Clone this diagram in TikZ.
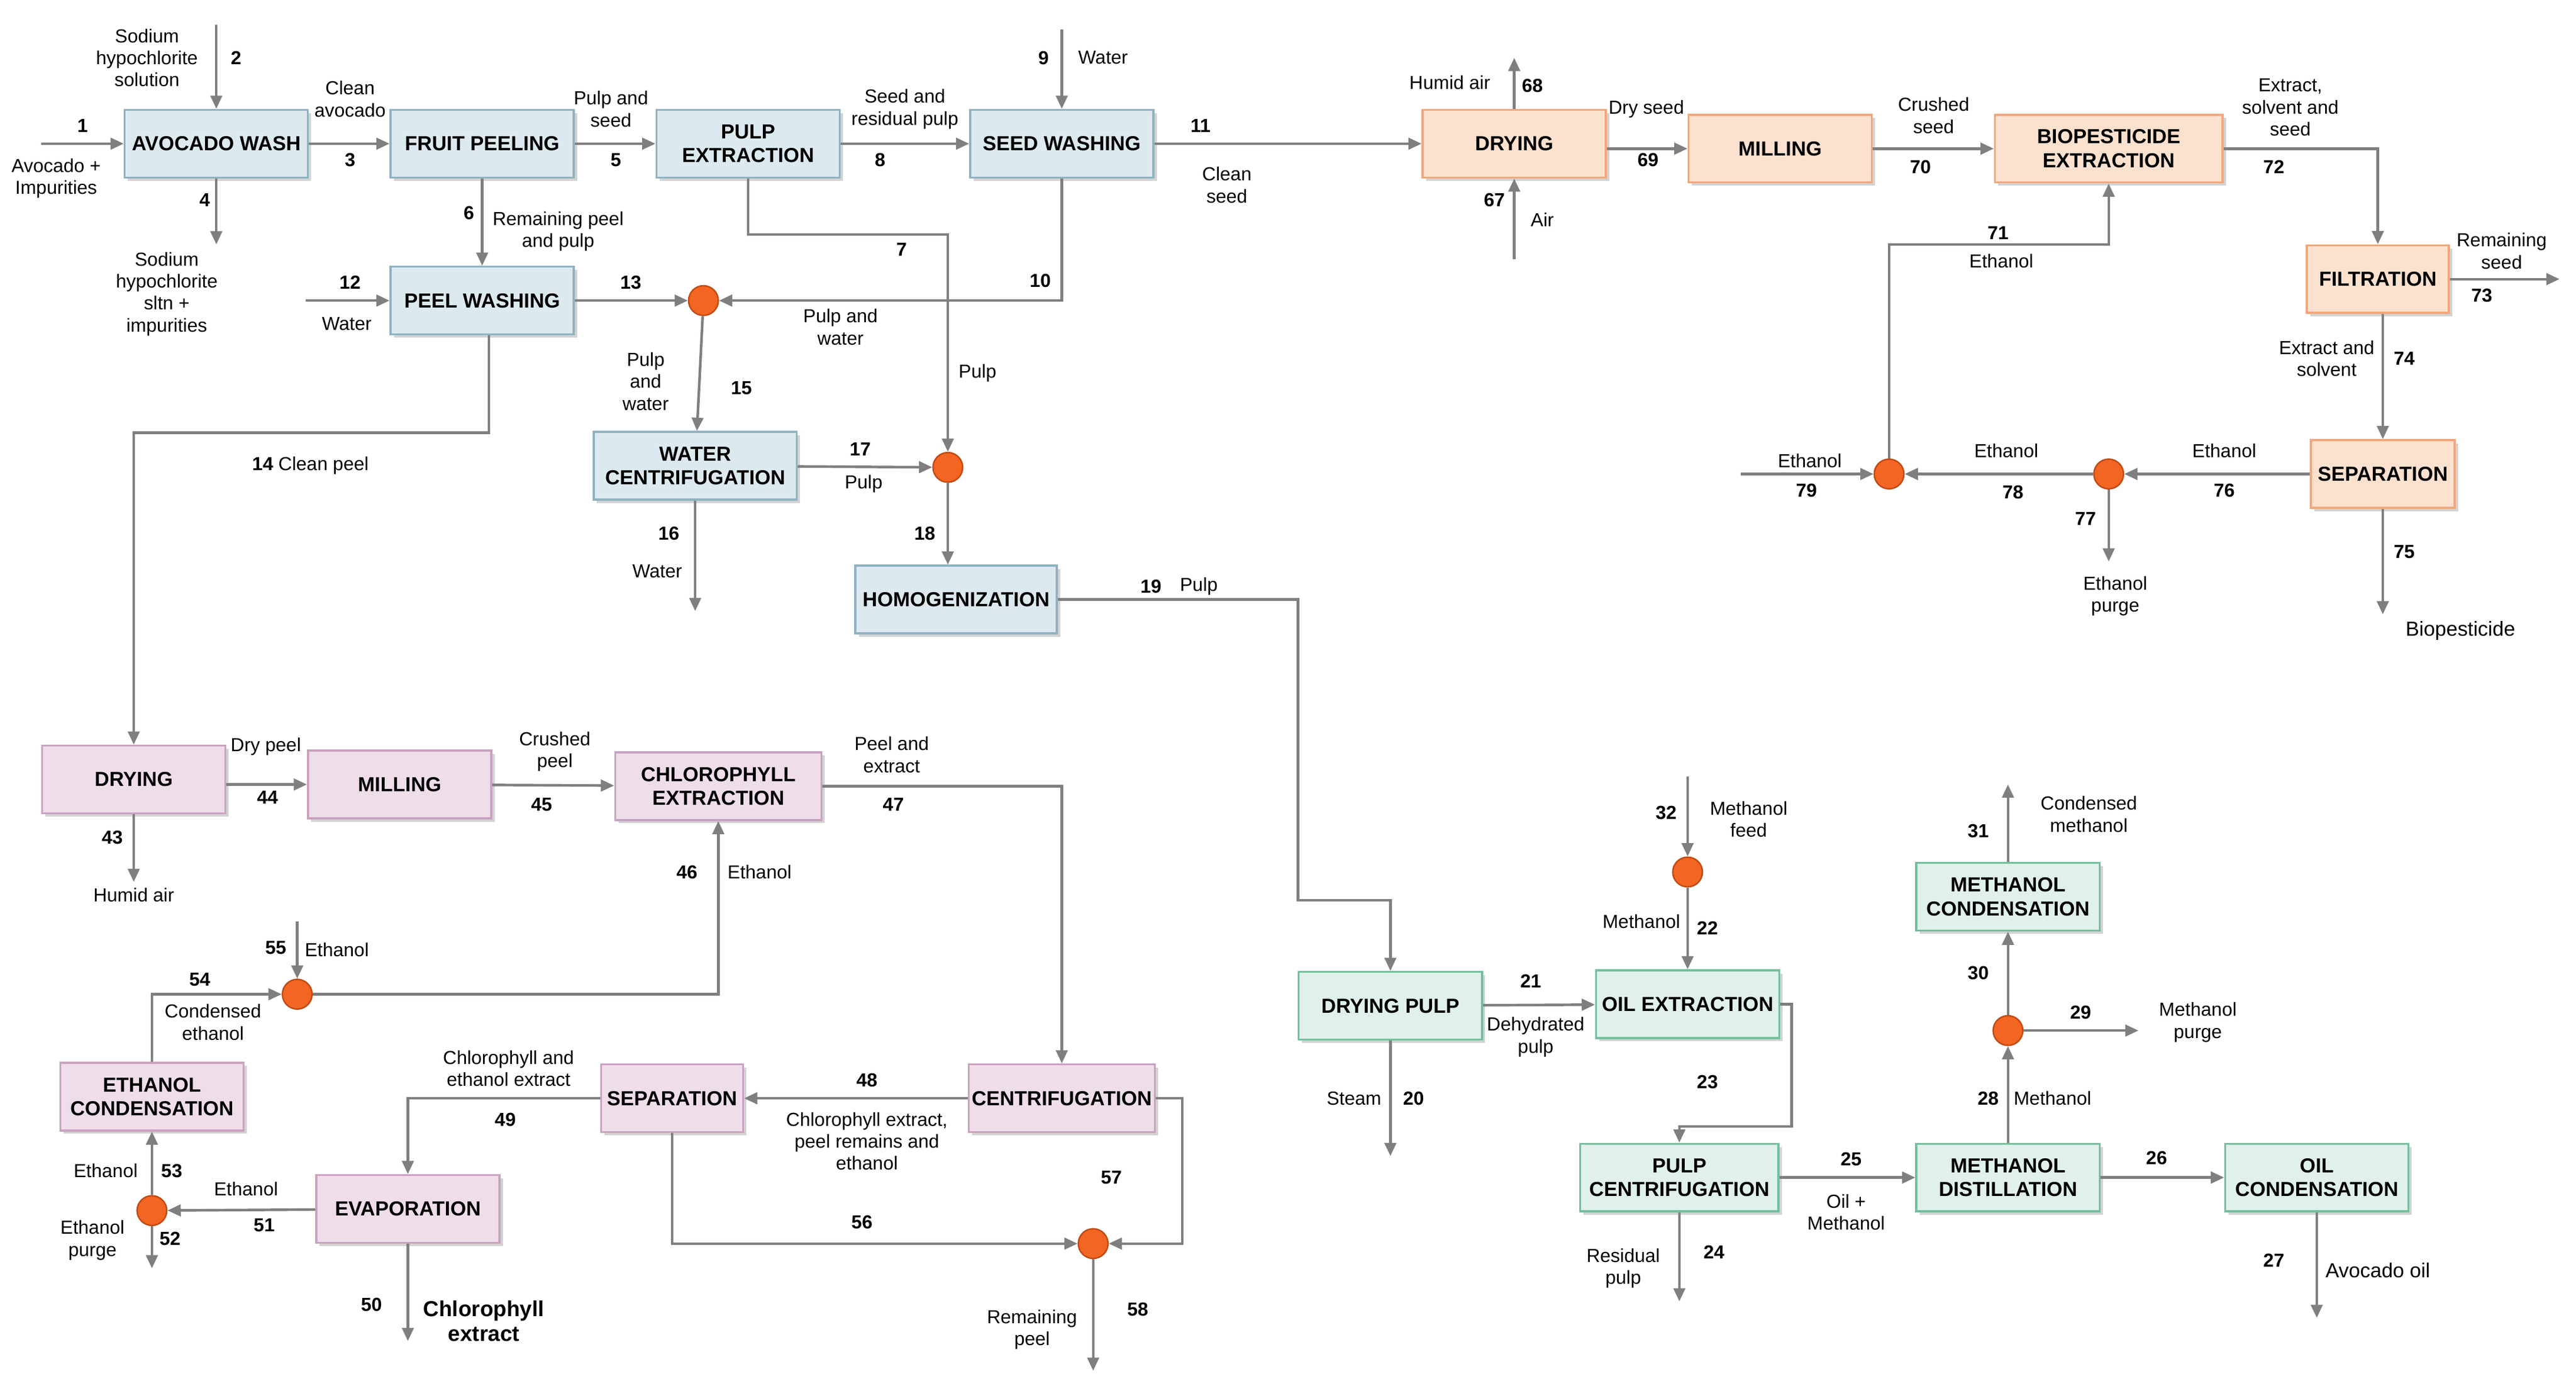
\documentclass[tikz,border=0pt]{standalone}
\usepackage{fontspec}
\setmainfont{Liberation Sans}
\usetikzlibrary{arrows.meta,shadows}
\definecolor{ln}{HTML}{7F7F7F}
\definecolor{bF}{HTML}{DCE9EF}\definecolor{bD}{HTML}{8FB3C2}
\definecolor{oF}{HTML}{FDE1CF}\definecolor{oD}{HTML}{F2A77C}
\definecolor{pF}{HTML}{EFDDEA}\definecolor{pD}{HTML}{C9A3C0}
\definecolor{gF}{HTML}{DFF1EA}\definecolor{gD}{HTML}{72BF9C}
\definecolor{mF}{HTML}{F26522}\definecolor{mD}{HTML}{C04A14}
\tikzset{
 box/.style={draw,line width=0.7pt,minimum width=2.22cm,minimum height=0.82cm,align=center,font=\fontsize{7}{8.2}\selectfont\bfseries,inner sep=1pt,drop shadow={shadow xshift=0.04cm,shadow yshift=-0.04cm,opacity=0.35}},
 bl/.style={box,fill=bF,draw=bD},
 og/.style={box,fill=oF,draw=oD},
 pk/.style={box,fill=pF,draw=pD},
 gn/.style={box,fill=gF,draw=gD},
 mx/.style={circle,fill=mF,draw=mD,line width=0.5pt,minimum size=0.36cm,inner sep=0pt},
 ar/.style={draw=ln,line width=0.9pt,-{Triangle[length=0.16cm,width=0.14cm]}},
 tx/.style={font=\fontsize{6.5}{7.6}\selectfont,align=center,inner sep=0pt},
 nm/.style={font=\fontsize{6.5}{7.6}\selectfont\bfseries,inner sep=0pt},
}
\begin{document}
\begin{tikzpicture}[x=0.02cm,y=-0.02cm]
\useasboundingbox (0,0) rectangle (1560,842);
% boxes
\node[bl] (aw) at (131,87) {AVOCADO WASH};
\node[bl] (fp) at (292,87) {FRUIT PEELING};
\node[bl] (pe) at (453,87) {PULP\\EXTRACTION};
\node[bl] (sw) at (643,87) {SEED WASHING};
\node[bl] (pw) at (292,182) {PEEL WASHING};
\node[bl,minimum width=2.46cm] (wc) at (421,282) {WATER\\CENTRIFUGATION};
\node[bl,minimum width=2.44cm] (ho) at (579,363) {HOMOGENIZATION};
\node[og] (dr) at (917,87) {DRYING};
\node[og] (mi) at (1078,90) {MILLING};
\node[og,minimum width=2.76cm] (bio) at (1277,90) {BIOPESTICIDE\\EXTRACTION};
\node[og,minimum width=1.72cm] (fil) at (1440,169) {FILTRATION};
\node[og,minimum width=1.74cm] (sep) at (1443,287) {SEPARATION};
\node[pk] (dp) at (81,472) {DRYING};
\node[pk] (mp) at (242,475) {MILLING};
\node[pk,minimum width=2.5cm] (ch) at (435,476) {CHLOROPHYLL\\EXTRACTION};
\node[pk] (ec) at (92,664) {ETHANOL\\CONDENSATION};
\node[pk] (ev) at (247,732) {EVAPORATION};
\node[pk,minimum width=1.72cm] (se) at (407,665) {SEPARATION};
\node[pk] (ce) at (643,665) {CENTRIFUGATION};
\node[gn] (dpu) at (842,609) {DRYING PULP};
\node[gn] (oe) at (1022,608) {OIL EXTRACTION};
\node[gn,minimum width=2.4cm] (pc) at (1017,713) {PULP\\CENTRIFUGATION};
\node[gn] (md) at (1216,713) {METHANOL\\DISTILLATION};
\node[gn] (oc) at (1403,713) {OIL\\CONDENSATION};
\node[gn] (mc) at (1216,543) {METHANOL\\CONDENSATION};
% mixers
\node[mx] (ma) at (426,182) {};
\node[mx] (mb) at (574,283) {};
\node[mx] (mc1) at (1144,287) {};
\node[mx] (md1) at (1277,287) {};
\node[mx] (me) at (180,602) {};
\node[mx] (mf) at (92,733) {};
\node[mx] (mg) at (662,753) {};
\node[mx] (mh) at (1022,528) {};
\node[mx] (mi1) at (1216,624) {};
% free ends
\coordinate (e1) at (25,87); \coordinate (e2) at (131,15); \coordinate (e4) at (131,148);
\coordinate (e9) at (643,18); \coordinate (e12) at (185,182); \coordinate (e16) at (421,370);
\coordinate (c7) at (574,142); \coordinate (c14) at (81,262); \coordinate (c19) at (786,545);
\coordinate (e68) at (917,35); \coordinate (e67) at (917,157); \coordinate (e73) at (1550,169);
\coordinate (e77) at (1277,340); \coordinate (e79) at (1054,287); \coordinate (c71) at (1200,148);
\coordinate (e75) at (1443,372); \coordinate (e43) at (81,534); \coordinate (e55) at (180,558);
\coordinate (c57) at (716,700); \coordinate (e58) at (662,830); \coordinate (e52) at (92,768);
\coordinate (e50) at (247,812); \coordinate (e20) at (842,700); \coordinate (e32) at (1022,470);
\coordinate (c23) at (1085,682); \coordinate (e24) at (1017,788); \coordinate (e27) at (1403,798);
\coordinate (e29) at (1295,624); \coordinate (e31) at (1216,475);
% connectors
\draw[ar] (e1) -- (aw);
\draw[ar] (e2) -- (aw);
\draw[ar] (aw) -- (fp);
\draw[ar] (aw) -- (e4);
\draw[ar] (fp) -- (pe);
\draw[ar] (fp) -- (pw);
\draw[ar] (pe) -- (sw);
\draw[ar] (e9) -- (sw);
\draw[ar] (sw) -- (dr);
\draw[ar] (sw.south) |- (ma.east);
\draw[ar] (pe.south) |- (c7) -- (mb.north);
\draw[ar] (e12) -- (pw);
\draw[ar] (pw) -- (ma);
\draw[ar] (ma) -- (wc);
\draw[ar] (wc) -- (mb);
\draw[ar] (wc) -- (e16);
\draw[ar] (mb) -- (mb |- ho.north);
\draw[ar] (ho.east) -| (c19) -| (dpu.north);
\draw[ar] ([xshift=0.08cm]pw.south) |- (c14) -- (dp.north);
\draw[ar] (dr) -- (e68);
\draw[ar] (e67) -- (dr);
\draw[ar] (dr.east |- mi) -- (mi);
\draw[ar] (mi) -- (bio);
\draw[ar] (bio.east) -| (fil.north);
\draw[ar] (fil) -- (e73);
\draw[ar] (fil.south -| sep.north) -- (sep.north);
\draw[ar] (sep) -- (md1);
\draw[ar] (md1) -- (mc1);
\draw[ar] (md1) -- (e77);
\draw[ar] (e79) -- (mc1);
\draw[ar] (mc1.north) |- (c71) -| (bio.south);
\draw[ar] (sep) -- (e75);
\draw[ar] (dp.east |- mp) -- (mp);
\draw[ar] (mp) -- (ch);
\draw[ar] (ch.east) -| (ce.north);
\draw[ar] (dp) -- (e43);
\draw[ar] (me.east) -| (ch.south);
\draw[ar] (e55) -- (me);
\draw[ar] (ec.north) |- (me.west);
\draw[ar] (ce) -- (se);
\draw[ar] (ce.east) -| (c57) |- (mg.east);
\draw[ar] (se.south) |- (mg.west);
\draw[ar] (mg) -- (e58);
\draw[ar] (se.west) -| (ev.north);
\draw[ar] (ev) -- (mf);
\draw[ar] (mf) -- (ec);
\draw[ar] (mf) -- (e52);
\draw[ar] (ev) -- (e50);
\draw[ar] (dpu) -- (e20);
\draw[ar] (dpu) -- (oe);
\draw[ar] (e32) -- (mh);
\draw[ar] (mh) -- (oe);
\draw[ar] (oe.east) -| (c23) -| (pc.north);
\draw[ar] (pc) -- (md);
\draw[ar] (pc) -- (e24);
\draw[ar] (md) -- (oc);
\draw[ar] (oc) -- (e27);
\draw[ar] (md) -- (mi1);
\draw[ar] (mi1) -- (e29);
\draw[ar] (mi1) -- (mc);
\draw[ar] (mc) -- (e31);
% labels
\node[nm] (n1) at (50,76) {1}; \node[tx] (t1) at (34,108) {Avocado +\\Impurities};
\node[nm] (n2) at (143,35) {2}; \node[tx] (t2) at (89,35) {Sodium\\hypochlorite\\solution};
\node[nm] (n3) at (212,97) {3}; \node[tx] (t3) at (212,60) {Clean\\avocado};
\node[nm] (n4) at (124,121) {4}; \node[tx] (t4) at (101,178) {Sodium\\hypochlorite\\sltn +\\impurities};
\node[nm] (n5) at (373,97) {5}; \node[tx] (t5) at (370,66) {Pulp and\\seed};
\node[nm] (n6) at (284,129) {6}; \node[tx] (t6) at (338,140) {Remaining peel\\and pulp};
\node[nm] (n8) at (533,97) {8}; \node[tx] (t8) at (548,66) {Seed and\\residual pulp};
\node[nm] (n9) at (632,35) {9}; \node[tx] (t9) at (668,35) {Water};
\node[nm] (n11) at (727,76) {11}; \node[tx] (t11) at (743,112) {Clean\\seed};
\node[nm] (n10) at (630,170) {10}; \node[tx] (t10) at (509,198) {Pulp and\\water};
\node[nm] (n7) at (546,151) {7}; \node[tx] (t7) at (592,226) {Pulp};
\node[nm] (n12) at (212,171) {12}; \node[tx] (t12) at (210,196) {Water};
\node[nm] (n13) at (382,171) {13};
\node[nm] (n15) at (449,235) {15}; \node[tx] (t15) at (391,231) {Pulp\\and\\water};
\node[nm] (n17) at (521,272) {17}; \node[tx] (t17) at (523,293) {Pulp};
\node[nm] (n16) at (405,323) {16}; \node[tx] (t16) at (398,346) {Water};
\node[nm] (n18) at (560,323) {18};
\node[nm] (n19) at (697,355) {19}; \node[tx] (t19) at (726,355) {Pulp};
\node[tx] (t14) at (188,282) {\textbf{14} Clean peel};
\node[nm] (n68) at (928,52) {68}; \node[tx] (t68) at (878,50) {Humid air};
\node[nm] (n67) at (905,121) {67}; \node[tx] (t67) at (934,133) {Air};
\node[nm] (n69) at (998,97) {69}; \node[tx] (t69) at (997,66) {Dry seed};
\node[nm] (n70) at (1163,101) {70}; \node[tx] (t70) at (1171,70) {Crushed\\seed};
\node[nm] (n72) at (1377,101) {72}; \node[tx] (t72) at (1387,65) {Extract,\\solvent and\\seed};
\node[nm] (n73) at (1503,179) {73}; \node[tx] (t73) at (1515,152) {Remaining\\seed};
\node[nm] (n74) at (1456,217) {74}; \node[tx] (t74) at (1409,217) {Extract and\\solvent};
\node[nm] (n76) at (1347,297) {76}; \node[tx] (t76) at (1347,273) {Ethanol};
\node[nm] (n78) at (1219,298) {78}; \node[tx] (t78) at (1215,273) {Ethanol};
\node[nm] (n77) at (1263,314) {77}; \node[tx] (t77) at (1281,361) {Ethanol\\purge};
\node[nm] (n79) at (1094,297) {79}; \node[tx] (t79) at (1096,279) {Ethanol};
\node[nm] (n71) at (1210,141) {71}; \node[tx] (t71) at (1212,158) {Ethanol};
\node[nm] (n75) at (1456,334) {75}; \node[tx,font=\fontsize{7}{8}\selectfont] (t75) at (1490,382) {Biopesticide};
\node[nm] (n44) at (162,483) {44}; \node[tx] (t44) at (161,452) {Dry peel};
\node[nm] (n45) at (328,487) {45}; \node[tx] (t45) at (336,455) {Crushed\\peel};
\node[nm] (n47) at (541,487) {47}; \node[tx] (t47) at (540,457) {Peel and\\extract};
\node[nm] (n43) at (68,507) {43}; \node[tx] (t43) at (81,542) {Humid air};
\node[nm] (n46) at (416,528) {46}; \node[tx] (t46) at (460,528) {Ethanol};
\node[nm] (n55) at (167,574) {55}; \node[tx] (t55) at (204,575) {Ethanol};
\node[nm] (n54) at (121,593) {54}; \node[tx] (t54) at (129,619) {Condensed\\ethanol};
\node[nm] (n48) at (525,654) {48}; \node[tx] (t48) at (525,691) {Chlorophyll extract,\\peel remains and\\ethanol};
\node[nm] (n57) at (673,713) {57};
\node[nm] (n56) at (522,740) {56};
\node[nm] (n58) at (689,793) {58}; \node[tx] (t58) at (625,805) {Remaining\\peel};
\node[nm] (n49) at (306,678) {49}; \node[tx] (t49) at (308,647) {Chlorophyll and\\ethanol extract};
\node[nm] (n51) at (160,742) {51}; \node[tx] (t51) at (149,720) {Ethanol};
\node[nm] (n53) at (104,709) {53}; \node[tx] (t53) at (64,709) {Ethanol};
\node[nm] (n52) at (103,750) {52}; \node[tx] (t52) at (56,751) {Ethanol\\purge};
\node[nm] (n50) at (225,790) {50}; \node[tx,font=\fontsize{7.5}{8.6}\selectfont\bfseries] (t50) at (293,800) {Chlorophyll\\extract};
\node[nm] (n20) at (856,665) {20}; \node[tx] (t20) at (820,665) {Steam};
\node[nm] (n21) at (927,594) {21}; \node[tx] (t21) at (930,628) {Dehydrated\\pulp};
\node[nm] (n32) at (1009,492) {32}; \node[tx] (t32) at (1059,496) {Methanol\\feed};
\node[nm] (n22) at (1034,562) {22}; \node[tx] (t22) at (994,558) {Methanol};
\node[nm] (n23) at (1034,655) {23};
\node[nm] (n25) at (1121,702) {25}; \node[tx] (t25) at (1118,734) {Oil +\\Methanol};
\node[nm] (n24) at (1038,758) {24}; \node[tx] (t24) at (983,768) {Residual\\pulp};
\node[nm] (n26) at (1306,701) {26};
\node[nm] (n27) at (1377,763) {27}; \node[tx,font=\fontsize{7}{8}\selectfont] (t27) at (1440,769) {Avocado oil};
\node[nm] (n28) at (1204,665) {28}; \node[tx] (t28) at (1243,665) {Methanol};
\node[nm] (n29) at (1260,613) {29}; \node[tx] (t29) at (1331,619) {Methanol\\purge};
\node[nm] (n30) at (1198,589) {30};
\node[nm] (n31) at (1198,503) {31}; \node[tx] (t31) at (1265,493) {Condensed\\methanol};
\end{tikzpicture}
\end{document}
